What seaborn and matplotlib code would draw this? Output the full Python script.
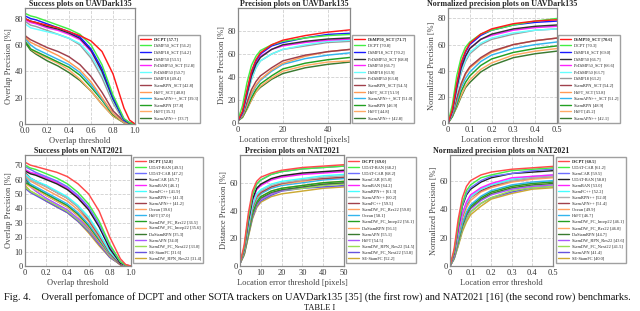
import matplotlib
matplotlib.use("Agg")
import matplotlib.pyplot as plt
from matplotlib.lines import Line2D
import seaborn as sns
import pandas as pd

sns.set_style("whitegrid")
plt.rcParams['font.family'] = ['Liberation Serif', 'DejaVu Serif']

# ---------------- colours ----------------
top_colors = ['#ff1a1a', '#44ee44', '#1a1aff', '#333333', '#ff22ff', '#66ffff', '#9a9a9a',
              '#a0404c', '#ff9a55', '#33b5ee', '#22a022', '#ffaa66', '#3a7a30']
bot_colors = ['#ff4a4a', '#44ee44', '#6f6fff', '#222222', '#ff22ff', '#44ffff', '#b0b0b0',
              '#a0404c', '#ffa060', '#33b5ee', '#22a022', '#ffaa66', '#3a7a30',
              '#aa55ff', '#99dd55', '#6655dd', '#ccaa33']

# ---------------- UAVDark135 success ----------------
s1_x = [0, .05, .1, .2, .3, .4, .5, .6, .7, .8, .9, .95, 1.0]
s1_names = ['DCPT', 'DiMP50_SCT', 'DiMP18_SCT', 'DiMP50', 'PrDiMP50_SCT', 'PrDiMP50', 'DiMP18',
            'SiamRPN_SCT', 'HiFT_SCT', 'SiamAPN++_SCT', 'SiamRPN', 'HiFT', 'SiamAPN++']
s1_scores = ['57.7', '56.2', '54.2', '53.5', '52.8', '50.7', '49.4', '42.8', '40.8', '39.3', '37.8', '35.3', '33.7']
s1_vals = [
    [80, 78, 77, 75, 73, 70, 67, 63, 55, 38, 12, 3, 0],
    [84, 82, 81, 78, 75, 72, 68, 60, 45, 22, 4, 1, 0],
    [82, 80, 79, 76, 73, 70, 66, 57, 42, 20, 3, 1, 0],
    [80, 78, 77, 74, 72, 69, 65, 56, 40, 19, 3, 0.5, 0],
    [79, 77, 76, 73, 71, 68, 64, 55, 40, 20, 4, 1, 0],
    [76, 73, 72, 70, 68, 65, 61, 52, 38, 18, 3, 1, 0],
    [78, 75, 74, 71, 68, 65, 60, 50, 35, 16, 2, 0.5, 0],
    [67, 64, 62, 58, 55, 51, 45, 36, 24, 10, 2, 0.5, 0],
    [66, 62, 60, 56, 52, 47, 41, 32, 20, 8, 1, 0, 0],
    [65, 60, 57, 53, 49, 45, 39, 30, 19, 8, 1, 0, 0],
    [63, 57, 55, 51, 47, 43, 37, 28, 18, 7, 1, 0, 0],
    [68, 57, 54, 50, 46, 41, 34, 25, 15, 6, 1, 0, 0],
    [62, 56, 53, 48, 44, 39, 33, 25, 15, 6, 1, 0, 0],
]

# ---------------- UAVDark135 precision ----------------
p1_x = [0, 2, 4, 6, 8, 10, 15, 20, 30, 40, 50]
p1_names = ['DiMP50_SCT', 'DCPT', 'DiMP18_SCT', 'PrDiMP50_SCT', 'DiMP50', 'DiMP18', 'PrDiMP50',
            'SiamRPN_SCT', 'HiFT_SCT', 'SiamAPN++_SCT', 'SiamRPN', 'HiFT', 'SiamAPN++']
p1_scores = ['71.7', '70.8', '70.2', '68.8', '66.7', '63.9', '63.8', '54.5', '51.9', '51.0', '46.9', '44.8', '42.8']
p1_vals = [
    [2, 10, 28, 45, 55, 61, 68, 72, 76, 79, 81],
    [3, 15, 35, 50, 58, 63, 68, 71, 74, 76, 77],
    [2, 9, 27, 44, 54, 60, 67, 70, 74, 77, 78],
    [2, 9, 25, 41, 51, 57, 64, 68, 71, 73, 74],
    [2, 9, 26, 42, 52, 58, 64, 67, 70, 72, 73],
    [2, 8, 23, 38, 48, 54, 60, 64, 68, 71, 72],
    [2, 8, 23, 38, 48, 54, 60, 64, 67, 70, 71],
    [2, 7, 18, 29, 36, 41, 48, 54, 59, 62, 64],
    [2, 6, 16, 26, 33, 38, 46, 52, 58, 62, 64],
    [2, 6, 15, 25, 32, 37, 45, 51, 56, 59, 61],
    [2, 5, 13, 22, 29, 34, 41, 47, 52, 55, 57],
    [2, 5, 12, 20, 27, 32, 39, 45, 50, 53, 54],
    [2, 5, 12, 20, 27, 31, 38, 43, 48, 51, 53],
]

# ---------------- UAVDark135 normalized precision ----------------
n1_x = [0, .02, .04, .06, .08, .1, .15, .2, .3, .4, .5]
n1_names = ['DiMP50_SCT', 'DCPT', 'DiMP18_SCT', 'DiMP50', 'PrDiMP50_SCT', 'PrDiMP50', 'DiMP18',
            'SiamRPN_SCT', 'HiFT_SCT', 'SiamAPN++_SCT', 'SiamRPN', 'HiFT', 'SiamAPN++']
n1_scores = ['70.6', '70.3', '69.0', '66.7', '66.6', '63.7', '63.2', '54.2', '53.8', '51.2', '48.9', '45.2', '42.1']
n1_vals = [
    [0, 10, 30, 46, 55, 61, 68, 72, 76, 78, 79],
    [0, 14, 36, 50, 58, 62, 68, 71, 75, 78, 80],
    [0, 10, 29, 45, 54, 60, 67, 71, 75, 77, 78],
    [0, 9, 27, 42, 51, 57, 64, 68, 72, 74, 75],
    [0, 9, 27, 42, 51, 57, 64, 67, 71, 73, 74],
    [0, 8, 24, 39, 48, 54, 61, 65, 69, 71, 72],
    [0, 8, 24, 38, 47, 53, 60, 64, 68, 71, 72],
    [0, 7, 19, 30, 38, 43, 50, 55, 60, 63, 65],
    [0, 7, 18, 29, 37, 42, 49, 54, 60, 63, 65],
    [0, 6, 16, 27, 34, 39, 47, 52, 57, 60, 62],
    [0, 5, 14, 24, 31, 36, 44, 49, 54, 57, 59],
    [0, 5, 13, 21, 28, 33, 41, 46, 52, 55, 57],
    [0, 5, 12, 20, 27, 31, 39, 44, 50, 53, 55],
]

# ---------------- NAT2021 success ----------------
s2_x = [0, .05, .1, .2, .3, .4, .5, .6, .7, .8, .9, .95, 1.0]
s2_names = ['DCPT', 'UDAT-BAN', 'UDAT-CAR', 'SiamCAR', 'SiamBAN', 'SiamFC++', 'SiamRPN++', 'SiamAPN++',
            'Ocean', 'HiFT', 'SiamDW_FC_Res22', 'SiamDW_FC_Incep22', 'DaSiamRPN', 'SiamAPN',
            'SiamDW_FC_Next22', 'SE-SiamFC', 'SiamDW_RPN_Res22']
s2_scores = ['52.8', '49.5', '47.2', '45.7', '46.1', '41.9', '41.3', '41.2', '39.6', '37.0', '36.5',
             '35.6', '35.3', '34.0', '33.0', '31.6', '31.4']
s2_vals = [
    [72, 70, 69, 67, 65, 62, 57, 50, 38, 20, 5, 1, 0],
    [70, 68, 67, 64, 61, 57, 51, 43, 31, 15, 3, 0.5, 0],
    [69, 67, 65, 62, 59, 55, 49, 41, 29, 14, 3, 0.5, 0],
    [66, 64, 63, 60, 57, 53, 47, 39, 27, 12, 2, 0.5, 0],
    [67, 65, 64, 61, 58, 54, 48, 40, 28, 13, 2, 0.5, 0],
    [64, 61, 59, 56, 52, 48, 42, 34, 23, 10, 2, 0, 0],
    [63, 60, 58, 55, 51, 47, 41, 33, 22, 10, 2, 0, 0],
    [65, 61, 59, 55, 51, 47, 41, 32, 21, 9, 1, 0, 0],
    [63, 59, 57, 53, 49, 45, 39, 31, 20, 9, 1, 0, 0],
    [62, 57, 55, 51, 47, 43, 37, 29, 19, 8, 1, 0, 0],
    [58, 56, 54, 50, 46, 42, 36, 28, 18, 8, 1, 0, 0],
    [57, 55, 53, 49, 45, 41, 35, 27, 17, 7, 1, 0, 0],
    [61, 56, 54, 49, 45, 41, 35, 27, 17, 7, 1, 0, 0],
    [60, 55, 52, 47, 43, 39, 33, 26, 16, 7, 1, 0, 0],
    [55, 52, 50, 46, 42, 38, 32, 25, 16, 7, 1, 0, 0],
    [54, 51, 49, 45, 41, 37, 31, 24, 15, 6, 1, 0, 0],
    [56, 52, 50, 45, 41, 37, 31, 23, 14, 6, 1, 0, 0],
]

# ---------------- NAT2021 precision ----------------
p2_x = [0, 2, 4, 6, 8, 10, 15, 20, 30, 40, 50]
p2_names = ['DCPT', 'UDAT-BAN', 'UDAT-CAR', 'SiamCAR', 'SiamBAN', 'SiamRPN++', 'SiamAPN++', 'SiamFC++',
            'SiamDW_FC_Res22', 'Ocean', 'SiamDW_FC_Incep22', 'DaSiamRPN', 'SiamAPN', 'HiFT',
            'SiamDW_RPN_Res22', 'SiamDW_FC_Next22', 'SE-SiamFC']
p2_scores = ['69.0', '68.2', '68.2', '65.0', '64.2', '61.3', '60.2', '59.5', '59.0', '58.1', '56.1',
             '56.1', '55.1', '54.5', '54.5', '53.8', '52.2']
p2_vals = [
    [2, 15, 38, 54, 61, 64, 67, 69, 71, 72, 73],
    [2, 13, 35, 51, 59, 62, 66, 68, 70, 71, 72],
    [2, 13, 35, 51, 59, 62, 66, 68, 70, 71, 72],
    [2, 12, 32, 48, 56, 59, 63, 65, 67, 68, 69],
    [2, 12, 32, 47, 55, 58, 62, 64, 66, 67, 68],
    [2, 11, 29, 44, 52, 55, 59, 61, 63, 65, 66],
    [2, 11, 28, 43, 51, 54, 58, 60, 62, 64, 65],
    [2, 10, 27, 42, 50, 53, 57, 59.5, 62, 63, 64],
    [2, 10, 27, 42, 49, 53, 57, 59, 61, 63, 64],
    [2, 10, 26, 41, 48, 52, 56, 58, 60, 62, 63],
    [2, 9, 24, 38, 46, 50, 54, 56, 58, 60, 61],
    [2, 9, 24, 38, 46, 50, 54, 56, 58, 60, 61],
    [2, 9, 23, 37, 45, 49, 53, 55, 57, 59, 60],
    [2, 9, 23, 36, 44, 48, 52, 54.5, 57, 59, 60],
    [2, 8, 22, 36, 44, 48, 52, 54.5, 56, 58, 59],
    [2, 8, 22, 35, 43, 47, 51, 54, 56, 57, 58],
    [2, 8, 21, 34, 42, 46, 50, 52, 54, 56, 57],
]

# ---------------- NAT2021 normalized precision ----------------
n2_x = [0, .02, .04, .06, .08, .1, .15, .2, .3, .4, .5]
n2_names = ['DCPT', 'UDAT-CAR', 'SiamCAR', 'UDAT-BAN', 'SiamBAN', 'SiamFC++', 'SiamRPN++', 'SiamAPN++',
            'Ocean', 'HiFT', 'SiamDW_FC_Incep22', 'SiamDW_FC_Res22', 'DaSiamRPN', 'SiamDW_RPN_Res22',
            'SiamDW_FC_Next22', 'SiamAPN', 'SE-SiamFC']
n2_scores = ['60.5', '61.2', '59.5', '58.8', '53.0', '52.2', '52.0', '51.4', '49.9', '46.7', '46.1',
             '46.0', '44.7', '43.6', '41.5', '41.4', '40.0']
n2_vals = [
    [0, 12, 33, 48, 56, 60, 64, 66, 68, 69, 70],
    [0, 10, 29, 44, 53, 57, 62, 64, 67, 68, 69],
    [0, 10, 28, 43, 51, 55, 60, 63, 65, 67, 68],
    [0, 9, 27, 42, 50, 54, 59, 62, 65, 66, 67],
    [0, 8, 24, 37, 45, 50, 55, 58, 62, 63, 64],
    [0, 8, 23, 36, 44, 49, 54, 57, 61, 63, 64],
    [0, 8, 23, 36, 44, 48, 54, 57, 60, 62, 63],
    [0, 7, 22, 35, 43, 48, 53, 56, 60, 62, 63],
    [0, 7, 21, 33, 41, 46, 52, 55, 59, 61, 62],
    [0, 6, 19, 30, 38, 43, 49, 53, 57, 59, 60],
    [0, 6, 18, 30, 37, 42, 48, 52, 56, 58, 59],
    [0, 6, 18, 30, 37, 42, 48, 52, 56, 58, 59],
    [0, 6, 17, 28, 36, 41, 47, 51, 55, 57, 58],
    [0, 6, 17, 28, 35, 40, 46, 50, 54, 56, 57],
    [0, 5, 15, 26, 33, 38, 44, 48, 53, 55, 56],
    [0, 5, 15, 26, 33, 38, 44, 48, 52, 55, 56],
    [0, 5, 14, 24, 31, 36, 42, 47, 51, 54, 55],
]

W, H = 640, 311
fig = plt.figure(figsize=(W / 100, H / 100), dpi=100)


def fbox(l, t, r, b):
    return [l / W, 1 - b / H, (r - l) / W, (b - t) / H]


def panel(box, leg_xy, title, xlabel, ylabel, xs, names, scores, vals, colors,
          xlim, ylim, xticks, yticks, xtl, lspace):
    ax = fig.add_axes(fbox(*box))
    labels = [f"{n} [{s}]" for n, s in zip(names, scores)]
    for i in reversed(range(len(names))):
        df = pd.DataFrame({'x': xs, 'y': vals[i]})
        sns.lineplot(data=df, x='x', y='y', ax=ax, color=colors[i], linewidth=1.05,
                     estimator=None, sort=False)
    ax.set_xlim(*xlim)
    ax.set_ylim(*ylim)
    ax.set_xticks(xticks)
    ax.set_xticklabels(xtl)
    ax.set_yticks(yticks)
    ax.grid(True, linestyle='--', color='#d0d0d0', linewidth=0.6)
    for sp in ax.spines.values():
        sp.set_edgecolor('#888888')
        sp.set_linewidth(0.9)
    ax.tick_params(labelsize=6.0, pad=1.5, length=0, colors='#333333')
    ax.tick_params(axis='x', pad=2.5)
    ax.set_title(title, fontsize=5.8, fontweight='bold', pad=1.2)
    ax.set_xlabel(xlabel, fontsize=6.0, labelpad=1, color='#444444')
    ax.set_ylabel(ylabel, fontsize=6.0, labelpad=1, color='#444444')
    handles = [Line2D([0], [0], color=c, lw=1.0) for c in colors]
    leg = ax.legend(handles, labels, loc='upper left',
                    bbox_to_anchor=(leg_xy[0] / W, 1 - leg_xy[1] / H),
                    bbox_transform=fig.transFigure, fontsize=3.15, frameon=True,
                    fancybox=False, borderpad=0.5, labelspacing=lspace,
                    handlelength=2.4, handletextpad=0.7, borderaxespad=0)
    leg.get_frame().set_edgecolor('#888888')
    leg.get_frame().set_linewidth(1.0)
    leg.get_texts()[0].set_fontweight('bold')
    return ax


panel((25, 8, 135, 124), (138, 35), 'Success plots on UAVDark135', 'Overlap threshold',
      'Overlap Precision [%]', s1_x, s1_names, s1_scores, s1_vals, top_colors,
      (0, 1), (0, 88), [0, .2, .4, .6, .8, 1.0], [0, 20, 40, 60, 80],
      ['0.0', '0.2', '0.4', '0.6', '0.8', '1.0'], 0.58)
panel((238, 8, 350, 123), (352, 35), 'Precision plots on UAVDark135',
      'Location error threshold [pixels]', 'Distance Precision [%]', p1_x, p1_names, p1_scores,
      p1_vals, top_colors, (0, 50), (0, 100), [0, 20, 40], [0, 20, 40, 60, 80],
      ['0', '20', '40'], 0.58)
panel((448, 8, 557, 123), (558, 35), 'Normalized precision plots on UAVDark135',
      'Location error threshold', 'Normalized Precision [%]', n1_x, n1_names, n1_scores,
      n1_vals, top_colors, (0, 0.5), (0, 88), [0, .1, .2, .3, .4, .5], [0, 20, 40, 60, 80],
      ['0', '0.1', '0.2', '0.3', '0.4', '0.5'], 0.58)

panel((25, 155, 131, 266), (133, 157), 'Success plots on NAT2021', 'Overlap threshold',
      'Overlap Precision [%]', s2_x, s2_names, s2_scores, s2_vals, bot_colors,
      (0, 1), (0, 77), [0, .2, .4, .6, .8, 1.0], [0, 10, 20, 30, 40, 50, 60, 70],
      ['0', '0.2', '0.4', '0.6', '0.8', '1.0'], 0.46)
panel((240, 155, 344, 266), (346, 157), 'Precision plots on NAT2021',
      'Location error threshold [pixels]', 'Distance Precision [%]', p2_x, p2_names, p2_scores,
      p2_vals, bot_colors, (0, 50), (0, 80), [0, 10, 20, 30, 40, 50], [0, 20, 40, 60],
      ['0', '10', '20', '30', '40', '50'], 0.46)
panel((450, 155, 553, 266), (556, 157), 'Normalized precision plots on NAT2021',
      'Location error threshold', 'Normalized Precision [%]', n2_x, n2_names, n2_scores,
      n2_vals, bot_colors, (0, 0.5), (0, 78), [0, .1, .2, .3, .4, .5], [0, 20, 40, 60],
      ['0', '0.1', '0.2', '0.3', '0.4', '0.5'], 0.46)

fig.text(4 / W, 1 - 297 / H,
         "Fig. 4.    Overall perfomance of DCPT and other SOTA trackers on UAVDark135 [35] (the first row) "
         "and NAT2021 [16] (the second row) benchmarks.",
         fontsize=7.45, va='center', ha='left', color='#111111')
fig.text(0.5, 1 - 308 / H, "TABLE I", fontsize=6.0, va='center', ha='center', color='#111111')

fig.savefig('out.png', dpi=100)
